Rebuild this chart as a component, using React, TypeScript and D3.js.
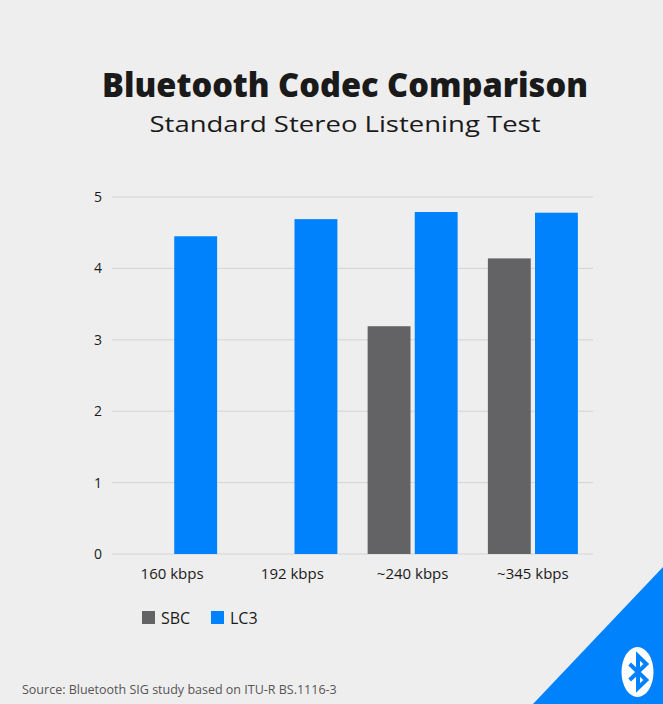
import React from 'react';
import * as d3 from 'd3';

// chart data
const categories = ['160 kbps', '192 kbps', '~240 kbps', '~345 kbps'];
const seriesNames = ['SBC', 'LC3'];
const sbcValues: (number | null)[] = [null, null, 3.19, 4.14];
const lc3Values: (number | null)[] = [4.45, 4.69, 4.79, 4.78];
const yTicks = [0, 1, 2, 3, 4, 5];
const colors = ['#636366', '#0082fc'];

const W = 663;
const H = 704;

const App: React.FC = () => {
  const x = d3.scaleBand<string>().domain(categories).range([112, 593]);
  const inner = d3.scaleBand<string>().domain(seriesNames).range([-45, 45]).paddingInner(0.09);
  const y = d3.scaleLinear().domain([0, 5]).range([554, 197]);

  const series = [sbcValues, lc3Values];
  const font = '"Open Sans", Lato, sans-serif';

  // bluetooth rune
  const bt = (cx: number, cy: number, h: number) => {
    const k = h * 0.26;
    const pts: [number, number][] = [
      [cx - k, cy - h * 0.25],
      [cx + k, cy + h * 0.25],
      [cx, cy + h * 0.5],
      [cx, cy - h * 0.5],
      [cx + k, cy - h * 0.25],
      [cx - k, cy + h * 0.25],
    ];
    return d3.line()(pts) || '';
  };

  return (
    <svg width={W} height={H} style={{ position: 'absolute', left: 0, top: 0 }} fontFamily={font}>
      <rect width={W} height={H} fill="#efeeef" />

      {/* title */}
      <text x={345} y={97} textAnchor="middle" fontSize={33} fontWeight={800} fill="#1a1a1a"
        textLength={486} lengthAdjust="spacingAndGlyphs">
        Bluetooth Codec Comparison
      </text>
      <text x={345} y={132} textAnchor="middle" fontSize={22} fill="#1a1a1a"
        textLength={391} lengthAdjust="spacingAndGlyphs">
        Standard Stereo Listening Test
      </text>

      {/* grid + y ticks */}
      {yTicks.map((t) => (
        <g key={t}>
          <line x1={112} x2={593} y1={y(t)} y2={y(t)} stroke="#d4d3d4" strokeWidth={1} />
          <text x={98} y={y(t) + 5} textAnchor="middle" fontSize={14} fill="#1a1a1a">
            {t}
          </text>
        </g>
      ))}

      {/* bars */}
      {categories.map((c, i) => {
        const cx = (x(c) || 0) + x.bandwidth() / 2;
        return (
          <g key={c}>
            {series.map((vals, s) => {
              const v = vals[i];
              if (v == null) return null;
              return (
                <rect
                  key={s}
                  x={cx + (inner(seriesNames[s]) || 0)}
                  y={y(v)}
                  width={inner.bandwidth()}
                  height={y(0) - y(v)}
                  fill={colors[s]}
                />
              );
            })}
            <text x={cx} y={579} textAnchor="middle" fontSize={15} fill="#1a1a1a">
              {c}
            </text>
          </g>
        );
      })}

      {/* legend */}
      {seriesNames.map((n, s) => {
        const lx = 142 + s * 69;
        return (
          <g key={n}>
            <rect x={lx} y={611} width={13} height={13} fill={colors[s]} />
            <text x={lx + 19} y={623.5} fontSize={16} fill="#1a1a1a">
              {n}
            </text>
          </g>
        );
      })}

      {/* source */}
      <text x={22} y={694} fontSize={12.5} fill="#555555">
        Source: Bluetooth SIG study based on ITU-R BS.1116-3
      </text>

      {/* corner triangle with logo */}
      <path d={`M${W},567 L${W},${H} L533,${H} Z`} fill="#0082fc" />
      <ellipse cx={637.5} cy={672} rx={16} ry={25} fill="#ffffff" />
      <path d={bt(638, 672, 32)} fill="none" stroke="#0082fc" strokeWidth={4} strokeLinejoin="miter" strokeLinecap="butt" />
    </svg>
  );
};

export default App;
